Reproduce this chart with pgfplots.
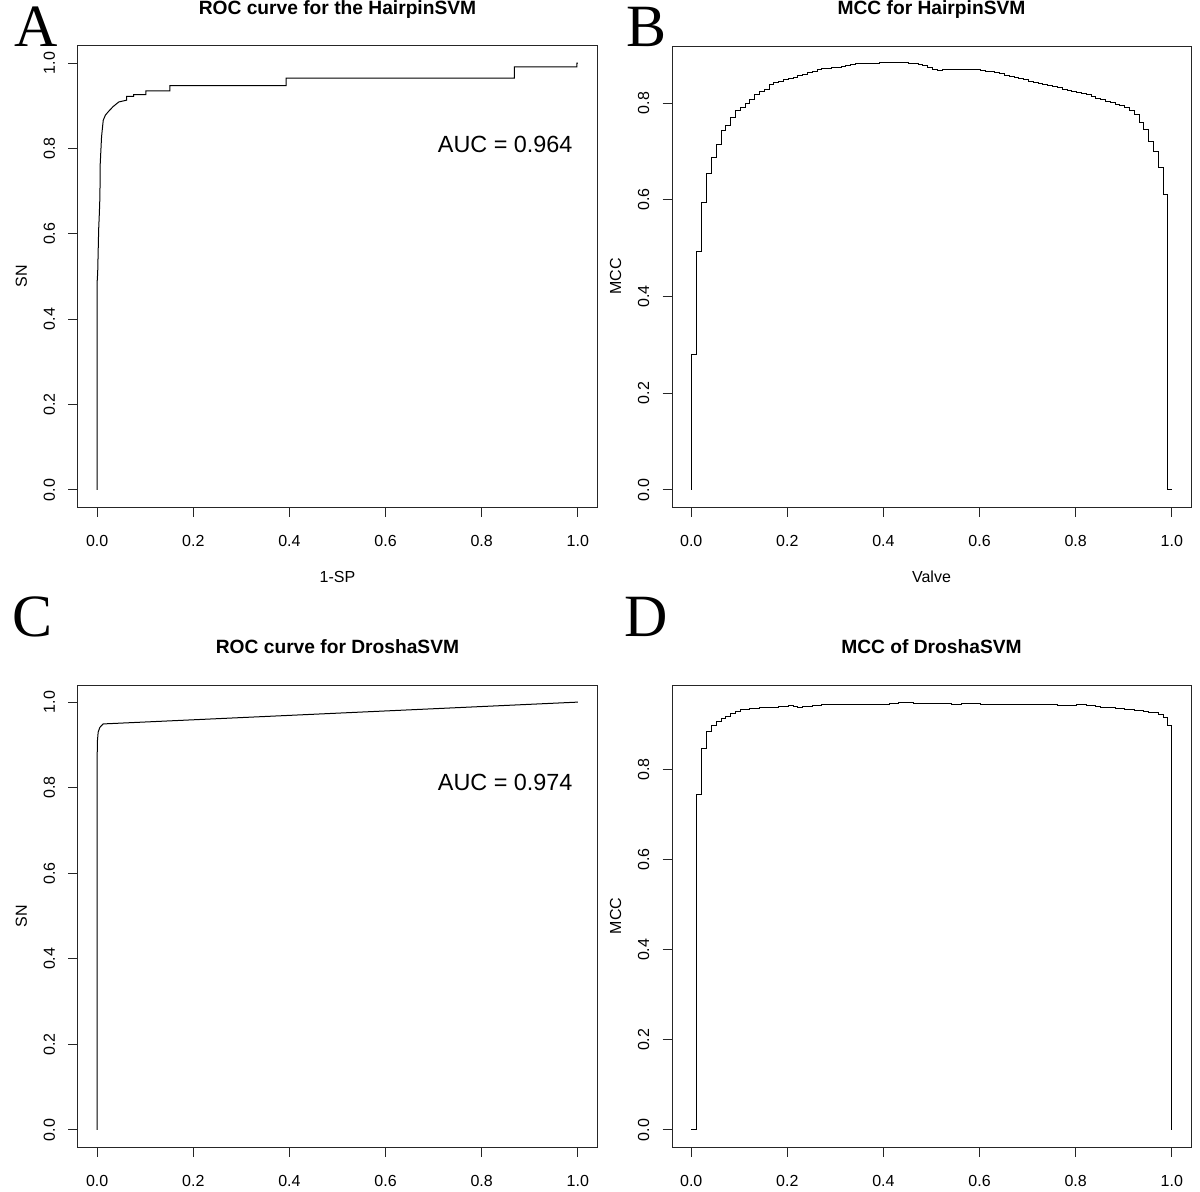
\documentclass[border=0pt]{standalone}
\usepackage{fontspec}
\setmainfont{Liberation Sans}
\newfontfamily\serifletter{Liberation Serif}
\usepackage{pgfplots}
\pgfplotsset{compat=1.18}
\pgfplotsset{
  rpanel/.style={
    scale only axis, width=259.5pt, height=230.5pt,
    axis line style={black!85, line width=0.5pt},
    tick align=outside, major tick length=4.75pt,
    every tick/.style={black!85, line width=0.5pt},
    xtick pos=bottom, ytick pos=left,
    xtick={0,0.2,0.4,0.6,0.8,1}, xticklabels={0.0,0.2,0.4,0.6,0.8,1.0},
    xmin=-0.04, xmax=1.04,
    tick label style={font=\fontsize{8}{9.6}\selectfont},
    xticklabel style={anchor=base, yshift=-15pt},
    yticklabel style={xshift=-6.75pt, rotate=90, anchor=base},
    title style={at={(0.5,1)}, anchor=base, yshift=9.75pt, font=\fontsize{9.6}{11.5}\selectfont\bfseries},
    every axis x label/.style={at={(axis description cs:0.5,0)}, anchor=base, yshift=-37.5pt, font=\fontsize{8}{9.6}\selectfont},
    every axis y label/.style={at={(axis description cs:0,0.5)}, xshift=-25.5pt, rotate=90, anchor=base, font=\fontsize{8}{9.6}\selectfont},
    cycle list={{black, line width=0.5pt, mark=none}},
  },
  roc/.style={ymin=-0.04, ymax=1.04, ytick={0,0.2,0.4,0.6,0.8,1}, yticklabels={0.0,0.2,0.4,0.6,0.8,1.0}},
}
\begin{document}
\begin{tikzpicture}
\useasboundingbox (0,0) rectangle (600pt,595.5pt);
% Panel A
\begin{axis}[rpanel, roc, at={(39pt,342pt)}, anchor=south west,
  title={ROC curve for the HairpinSVM}, xlabel={1-SP}, ylabel={SN}]
\addplot[black, line width=0.5pt, mark=none] coordinates {(0,0) (0,0.49) (0.001,0.51) (0.002,0.56) (0.003,0.61) (0.0045,0.65) (0.0056,0.687) (0.0063,0.765) (0.009,0.827) (0.0125,0.866) (0.017,0.878) (0.023,0.886) (0.033,0.898) (0.045,0.909) (0.061,0.913) (0.061,0.922) (0.076,0.922) (0.076,0.926) (0.101,0.926) (0.101,0.935) (0.151,0.935) (0.151,0.947) (0.393,0.947) (0.393,0.965) (0.868,0.965) (0.868,0.991) (0.998,0.991) (0.998,1.0) (1,1)};
\node[anchor=base, font=\fontsize{11.7}{14}\selectfont] at (axis cs:0.849,0.791) {AUC = 0.964};
\end{axis}
% Panel B
\begin{axis}[rpanel, at={(336pt,342pt)}, anchor=south west,
  ymin=-0.0354, ymax=0.918, ytick={0,0.2,0.4,0.6,0.8}, yticklabels={0.0,0.2,0.4,0.6,0.8},
  title={MCC for HairpinSVM}, xlabel={Valve}, ylabel={MCC}]
\addplot[black, line width=0.5pt, mark=none, const plot] coordinates {(0,0) (0,0.28) (0.012,0.494) (0.022,0.595) (0.032,0.655) (0.042,0.687) (0.052,0.715) (0.062,0.743) (0.072,0.753) (0.082,0.770) (0.092,0.784) (0.102,0.791) (0.112,0.800) (0.122,0.808) (0.132,0.817) (0.142,0.823) (0.152,0.829) (0.162,0.839) (0.172,0.842) (0.182,0.845) (0.192,0.848) (0.202,0.850) (0.212,0.853) (0.222,0.857) (0.232,0.860) (0.242,0.863) (0.252,0.866) (0.262,0.870) (0.272,0.872) (0.282,0.872) (0.292,0.873) (0.302,0.874) (0.312,0.876) (0.322,0.878) (0.332,0.879) (0.342,0.882) (0.352,0.881) (0.362,0.881) (0.372,0.881) (0.382,0.882) (0.392,0.883) (0.402,0.884) (0.412,0.884) (0.422,0.884) (0.432,0.883) (0.442,0.883) (0.452,0.882) (0.462,0.881) (0.472,0.879) (0.482,0.877) (0.492,0.874) (0.502,0.870) (0.512,0.868) (0.522,0.869) (0.532,0.869) (0.542,0.870) (0.552,0.869) (0.562,0.869) (0.572,0.870) (0.582,0.869) (0.592,0.869) (0.602,0.868) (0.612,0.866) (0.622,0.865) (0.632,0.863) (0.642,0.861) (0.652,0.858) (0.662,0.855) (0.672,0.852) (0.682,0.850) (0.692,0.848) (0.702,0.845) (0.712,0.843) (0.722,0.841) (0.732,0.839) (0.742,0.837) (0.752,0.835) (0.762,0.832) (0.772,0.829) (0.782,0.826) (0.792,0.823) (0.802,0.821) (0.812,0.819) (0.822,0.817) (0.832,0.814) (0.842,0.810) (0.852,0.807) (0.862,0.804) (0.872,0.801) (0.882,0.798) (0.892,0.795) (0.902,0.790) (0.912,0.784) (0.922,0.776) (0.932,0.760) (0.942,0.746) (0.952,0.720) (0.962,0.699) (0.972,0.667) (0.982,0.611) (0.992,0) (1.0,0)};
\end{axis}
% Panel C
\begin{axis}[rpanel, roc, at={(39pt,22pt)}, anchor=south west, height=231pt,
  title={ROC curve for DroshaSVM}, ylabel={SN}]
\addplot[black, line width=0.5pt, mark=none] coordinates {(0,0) (0,0.88) (0.0005,0.91) (0.002,0.930) (0.0055,0.941) (0.0125,0.949) (1,1)};
\node[anchor=base, font=\fontsize{11.7}{14}\selectfont] at (axis cs:0.849,0.793) {AUC = 0.974};
\end{axis}
% Panel D
\begin{axis}[rpanel, at={(336pt,22pt)}, anchor=south west, height=231pt,
  ymin=-0.038, ymax=0.988, ytick={0,0.2,0.4,0.6,0.8}, yticklabels={0.0,0.2,0.4,0.6,0.8},
  title={MCC of DroshaSVM}, ylabel={MCC}]
\addplot[black, line width=0.5pt, mark=none, const plot] coordinates {(0,0) (0.012,0.744) (0.022,0.848) (0.032,0.885) (0.042,0.898) (0.052,0.908) (0.062,0.914) (0.072,0.919) (0.082,0.925) (0.092,0.930) (0.102,0.933) (0.112,0.934) (0.122,0.935) (0.132,0.936) (0.142,0.937) (0.152,0.937) (0.162,0.938) (0.172,0.939) (0.182,0.940) (0.192,0.941) (0.202,0.942) (0.212,0.941) (0.222,0.939) (0.232,0.940) (0.242,0.941) (0.252,0.942) (0.262,0.943) (0.272,0.944) (0.282,0.945) (0.292,0.945) (0.302,0.945) (0.312,0.945) (0.322,0.945) (0.332,0.945) (0.342,0.945) (0.352,0.945) (0.362,0.945) (0.372,0.945) (0.382,0.945) (0.392,0.945) (0.402,0.945) (0.412,0.946) (0.422,0.947) (0.432,0.949) (0.442,0.950) (0.452,0.949) (0.462,0.948) (0.472,0.947) (0.482,0.947) (0.492,0.947) (0.502,0.947) (0.512,0.947) (0.522,0.947) (0.532,0.946) (0.542,0.945) (0.552,0.945) (0.562,0.946) (0.572,0.947) (0.582,0.947) (0.592,0.946) (0.602,0.945) (0.612,0.945) (0.622,0.945) (0.632,0.945) (0.642,0.945) (0.652,0.945) (0.662,0.945) (0.672,0.945) (0.682,0.945) (0.692,0.945) (0.702,0.945) (0.712,0.945) (0.722,0.945) (0.732,0.945) (0.742,0.945) (0.752,0.945) (0.762,0.943) (0.772,0.942) (0.782,0.943) (0.792,0.943) (0.802,0.944) (0.812,0.944) (0.822,0.943) (0.832,0.942) (0.842,0.940) (0.852,0.939) (0.862,0.938) (0.872,0.937) (0.882,0.936) (0.892,0.935) (0.902,0.934) (0.912,0.933) (0.922,0.932) (0.932,0.931) (0.942,0.930) (0.952,0.928) (0.962,0.926) (0.972,0.922) (0.982,0.916) (0.992,0.897) (1.0,0.897) (1.0,0)};
\end{axis}
% Panel letters
\node[anchor=base west, inner sep=0pt, font=\serifletter\fontsize{30}{36}\selectfont] at (7pt,572pt) {A};
\node[anchor=base west, inner sep=0pt, font=\serifletter\fontsize{30}{36}\selectfont] at (313pt,572pt) {B};
\node[anchor=base west, inner sep=0pt, font=\serifletter\fontsize{30}{36}\selectfont] at (6pt,277.5pt) {C};
\node[anchor=base west, inner sep=0pt, font=\serifletter\fontsize{30}{36}\selectfont] at (312pt,277.5pt) {D};
\end{tikzpicture}
\end{document}
